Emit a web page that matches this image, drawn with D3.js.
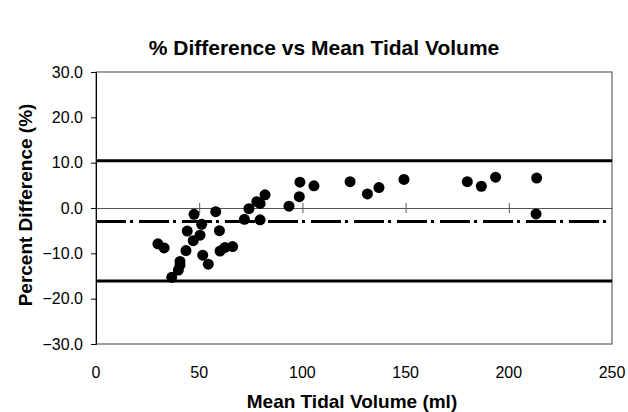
<!DOCTYPE html>
<html>
<head>
<meta charset="utf-8">
<script src="https://cdn.jsdelivr.net/npm/d3@7"></script>
<style>
body { margin: 0; background: #fff; }
text { font-family: "Liberation Sans", Arial, sans-serif; }
</style>
</head>
<body>
<svg id="chart" width="628" height="412"></svg>
<script>
const chart = d3.select("#chart");

// data
const volume = [30, 33, 36.7, 39.9, 40.7, 40.7, 43.6, 44.2, 47.1, 47.5, 50.4, 51.2, 51.7, 54.4,
	58, 59.8, 60.1, 62.5, 66.2, 71.9, 74.1, 77.9, 79.5, 81.9, 79.5, 93.5, 98.5, 98.8,
	105.6, 123.1, 131.5, 137.1, 149.2, 179.9, 186.7, 193.6, 213.5, 213.2];
const diff = [-7.9, -8.8, -15.3, -13.7, -12.6, -11.8, -9.4, -5.1, -7.2, -1.4, -6.0, -3.6, -10.4, -12.4,
	-0.8, -5.0, -9.5, -8.7, -8.5, -2.5, -0.15, 1.4, 1.0, 2.9, -2.6, 0.4, 2.5, 5.7,
	4.9, 5.8, 3.1, 4.5, 6.3, 5.8, 4.8, 6.8, 6.6, -1.3];
const upperLimit = 10.4;
const meanDiff = -3.0;
const lowerLimit = -16.1;
const xTicks = [0, 50, 100, 150, 200, 250];
const yTicks = [-30, -20, -10, 0, 10, 20, 30];

const plotLeft = 96, plotRight = 612, plotTop = 72, plotBottom = 344;

const x = d3.scaleLinear().domain([0, 250]).range([plotLeft, plotRight]);
const y = d3.scaleLinear().domain([-30, 30]).range([plotBottom, plotTop]);

// title
chart.append("text")
	.attr("x", 324)
	.attr("y", 55)
	.attr("text-anchor", "middle")
	.attr("font-size", "21px")
	.attr("font-weight", "bold")
	.text("% Difference vs Mean Tidal Volume");

// plot border
chart.append("rect")
	.attr("x", plotLeft)
	.attr("y", plotTop)
	.attr("width", plotRight - plotLeft)
	.attr("height", plotBottom - plotTop)
	.attr("fill", "none")
	.attr("stroke", "#444")
	.attr("stroke-width", 1);

// y axis
const yaxis = chart.append("g")
	.attr("transform", "translate(" + plotLeft + ",0)")
	.call(d3.axisLeft(y).tickValues(yTicks).tickSize(5).tickPadding(8).tickFormat(d3.format(".1f")));
yaxis.select(".domain").attr("stroke", "#000");
yaxis.selectAll("text")
	.attr("font-size", "16px")
	.attr("fill", "#000")
	.attr("font-family", "Liberation Sans, Arial, sans-serif");

// x tick labels at the bottom
chart.append("g")
	.selectAll("text")
	.data(xTicks)
	.enter()
	.append("text")
	.attr("x", d => x(d))
	.attr("y", 378)
	.attr("text-anchor", "middle")
	.attr("font-size", "16px")
	.text(d => d);

// x axis line at zero, with crossing ticks
const zaxis = chart.append("g")
	.attr("transform", "translate(0," + y(0) + ")")
	.call(d3.axisBottom(x).tickValues([50, 100, 150, 200]).tickSize(0).tickFormat(""));
zaxis.select(".domain").attr("stroke", "#555");
zaxis.selectAll(".tick line")
	.attr("y1", -5)
	.attr("y2", 5)
	.attr("stroke", "#555");

// limit lines
const lines = chart.append("g");
[upperLimit, lowerLimit].forEach(v => {
	lines.append("line")
		.attr("x1", plotLeft).attr("x2", plotRight)
		.attr("y1", y(v)).attr("y2", y(v))
		.attr("stroke", "#000")
		.attr("stroke-width", 3);
});
lines.append("line")
	.attr("x1", plotLeft).attr("x2", plotRight)
	.attr("y1", y(meanDiff)).attr("y2", y(meanDiff))
	.attr("stroke", "#000")
	.attr("stroke-width", 3)
	.attr("stroke-dasharray", "30,4,3,6");

// points
chart.append("g")
	.selectAll("circle")
	.data(volume)
	.enter()
	.append("circle")
	.attr("cx", d => x(d))
	.attr("cy", (d, i) => y(diff[i]))
	.attr("r", 5.5)
	.attr("fill", "#000");

// axis titles
chart.append("text")
	.attr("x", 352)
	.attr("y", 408)
	.attr("text-anchor", "middle")
	.attr("font-size", "19px")
	.attr("font-weight", "bold")
	.text("Mean Tidal Volume (ml)");

chart.append("text")
	.attr("transform", "translate(32,205) rotate(-90)")
	.attr("text-anchor", "middle")
	.attr("font-size", "19px")
	.attr("font-weight", "bold")
	.text("Percent Difference (%)");
</script>
</body>
</html>
